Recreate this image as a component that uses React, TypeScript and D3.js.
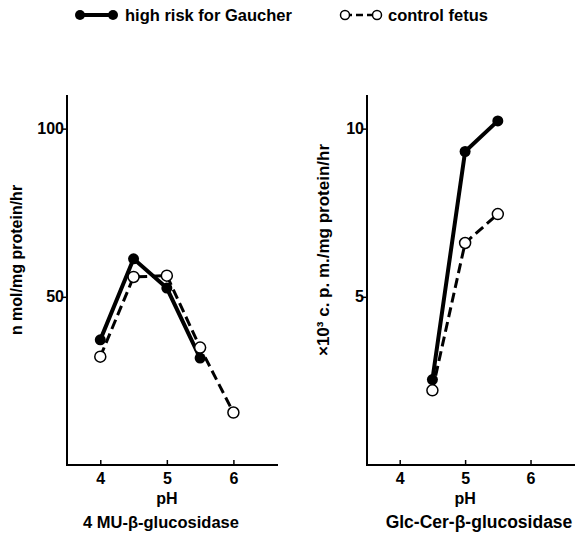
import React, { useEffect, useRef } from 'react'
import * as d3 from 'd3'

// left panel: 4MU-beta-glucosidase
const phLeftRisk = [4, 4.5, 5, 5.5]
const valLeftRisk = [37.2, 61.3, 52.6, 31.8]
const phLeftCtrl = [4, 4.5, 5, 5.5, 6]
const valLeftCtrl = [32.2, 55.9, 56.3, 34.9, 15.6]

// right panel: Glc-Cer-beta-glucosidase
const phRightRisk = [4.5, 5, 5.5]
const valRightRisk = [2.54, 9.32, 10.23]
const phRightCtrl = [4.5, 5, 5.5]
const valRightCtrl = [2.22, 6.6, 7.46]

const xTicks = [4, 5, 6]
const leftYTicks = [50, 100]
const rightYTicks = [5, 10]

const FONT = "'Liberation Sans', Arial, sans-serif"

export default function App() {
  const ref = useRef<SVGSVGElement>(null)

  useEffect(() => {
    const svg = d3.select(ref.current)
    svg.selectAll('*').remove()

    const panel = (opts: any) => {
      const x = d3.scaleLinear().domain([3.5, opts.xMax]).range([opts.left, opts.right])
      const y = d3.scaleLinear().domain([0, opts.yMax]).range([465, 95])
      const g = svg.append('g')

      g.append('g')
        .attr('transform', 'translate(0,465)')
        .call(d3.axisBottom(x).tickValues(xTicks).tickSize(-5).tickFormat(d3.format('d')))
        .call(a => a.select('.domain').attr('stroke-width', 2).attr('d', `M${opts.left},0H${opts.right}`))
        .call(a => a.selectAll('.tick line').attr('stroke-width', 1.5))
        .call(a => a.selectAll('.tick text').attr('dy', 0).attr('y', 19)
          .style('font', `bold 16px ${FONT}`).attr('fill', '#000'))

      g.append('g')
        .attr('transform', `translate(${opts.left},0)`)
        .call(d3.axisLeft(y).tickValues(opts.yTicks).tickSize(5).tickFormat(d3.format('d')))
        .call(a => a.select('.domain').attr('stroke-width', 2).attr('d', 'M0,95V466'))
        .call(a => a.selectAll('.tick line').attr('stroke-width', 1.5))
        .call(a => a.selectAll('.tick text').attr('x', -3)
          .style('font', `bold 16px ${FONT}`).attr('fill', '#000'))

      const line = d3.line<[number, number]>().x(d => x(d[0])).y(d => y(d[1]))
      const risk: [number, number][] = opts.riskX.map((v: number, i: number) => [v, opts.riskY[i]])
      const ctrl: [number, number][] = opts.ctrlX.map((v: number, i: number) => [v, opts.ctrlY[i]])

      g.append('path').datum(risk).attr('d', line).attr('fill', 'none')
        .attr('stroke', '#000').attr('stroke-width', 4)
      g.append('path').datum(ctrl).attr('d', line).attr('fill', 'none')
        .attr('stroke', '#000').attr('stroke-width', 3).attr('stroke-dasharray', '10,5')

      g.selectAll('.rk').data(risk).enter().append('circle')
        .attr('cx', d => x(d[0])).attr('cy', d => y(d[1])).attr('r', 5.5).attr('fill', '#000')
      g.selectAll('.ct').data(ctrl).enter().append('circle')
        .attr('cx', d => x(d[0])).attr('cy', d => y(d[1])).attr('r', 5.5)
        .attr('fill', '#fff').attr('stroke', '#000').attr('stroke-width', 1.5)

      g.append('text').attr('x', x(5)).attr('y', 504).attr('text-anchor', 'middle')
        .style('font', `bold 16px ${FONT}`).text('pH')
      g.append('text').attr('x', opts.subX).attr('y', 528).attr('text-anchor', 'middle')
        .style('font', `bold ${opts.subSize}px ${FONT}`).text(opts.sub)
      g.append('text')
        .attr('transform', `translate(${opts.labX},${opts.labY}) rotate(-90)`)
        .attr('text-anchor', 'middle')
        .style('font', `bold ${opts.labSize}px ${FONT}`).text(opts.ylabel)
    }

    panel({
      left: 67, right: 278, xMax: 6.67, yMax: 110, yTicks: leftYTicks,
      riskX: phLeftRisk, riskY: valLeftRisk, ctrlX: phLeftCtrl, ctrlY: valLeftCtrl,
      sub: '4 MU-\u03b2-glucosidase', subX: 161, subSize: 16.5, labX: 22, labY: 260, labSize: 16,
      ylabel: 'n mol/mg protein/hr'
    })
    panel({
      left: 367, right: 575, xMax: 6.68, yMax: 11, yTicks: rightYTicks,
      riskX: phRightRisk, riskY: valRightRisk, ctrlX: phRightCtrl, ctrlY: valRightCtrl,
      sub: 'Glc-Cer-\u03b2-glucosidase', subX: 479, subSize: 17.5, labX: 329, labY: 250, labSize: 17,
      ylabel: '\u00d710\u00b3 c. p. m./mg protein/hr'
    })

    // legend
    const lg = svg.append('g').style('font', `bold 16.5px ${FONT}`)
    lg.append('line').attr('x1', 78).attr('x2', 113).attr('y1', 15).attr('y2', 15)
      .attr('stroke', '#000').attr('stroke-width', 4)
    lg.append('circle').attr('cx', 80).attr('cy', 15).attr('r', 5).attr('fill', '#000')
    lg.append('circle').attr('cx', 113).attr('cy', 15).attr('r', 5).attr('fill', '#000')
    lg.append('text').attr('x', 125).attr('y', 21).text('high risk for Gaucher')
    lg.append('line').attr('x1', 345).attr('x2', 372).attr('y1', 15).attr('y2', 15)
      .attr('stroke', '#000').attr('stroke-width', 2.5).attr('stroke-dasharray', '7,4')
    lg.append('circle').attr('cx', 345).attr('cy', 15).attr('r', 4.5)
      .attr('fill', '#fff').attr('stroke', '#000').attr('stroke-width', 1.5)
    lg.append('circle').attr('cx', 377).attr('cy', 15).attr('r', 4.5)
      .attr('fill', '#fff').attr('stroke', '#000').attr('stroke-width', 1.5)
    lg.append('text').attr('x', 388).attr('y', 21).text('control fetus')
  }, [])

  return (
    <svg ref={ref} width={575} height={539}
      style={{ position: 'absolute', left: 0, top: 0, background: '#fff' }} />
  )
}
